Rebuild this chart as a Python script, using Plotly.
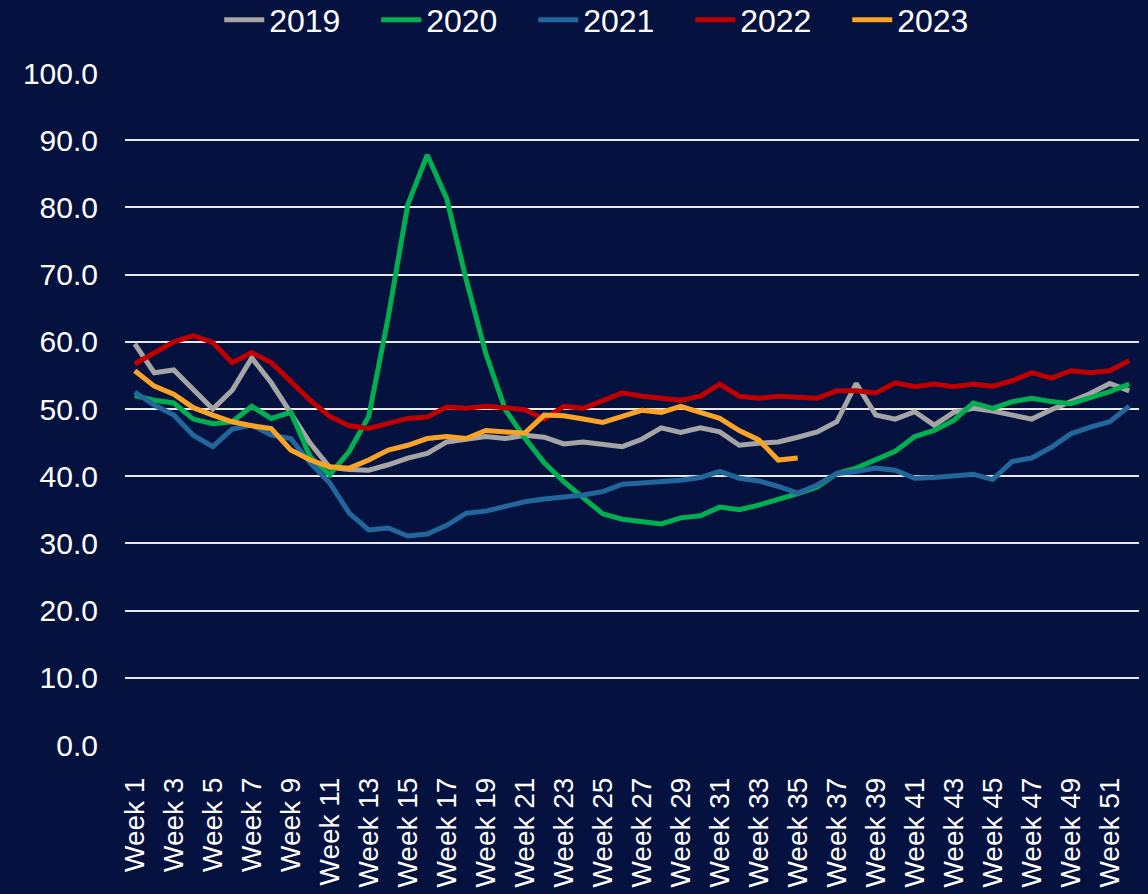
import plotly.graph_objects as go

weeks = [f"Week {i}" for i in range(1, 53)]
tick_weeks = [f"Week {i}" for i in range(1, 53, 2)]

y2019 = [59.7, 55.4, 55.8, 52.9, 50.0, 52.8, 57.6, 53.9, 49.4, 44.9,
         41.3, 41.0, 40.9, 41.7, 42.7, 43.4, 45.1, 45.5, 45.9, 45.6,
         46.1, 45.8, 44.8, 45.1, 44.8, 44.4, 45.5, 47.2, 46.5, 47.2,
         46.6, 44.6, 44.9, 45.1, 45.8, 46.6, 48.1, 53.8, 49.1, 48.5,
         49.6, 47.6, 49.5, 50.1, 49.7, 49.1, 48.5, 49.9, 51.1, 52.3,
         53.8, 52.7]
y2020 = [52.0, 51.3, 50.9, 48.5, 47.8, 48.1, 50.4, 48.6, 49.5, 42.9,
         40.2, 43.7, 48.9, 63.7, 80.4, 87.8, 81.3, 69.2, 58.3, 49.9,
         45.7, 42.0, 39.2, 36.7, 34.4, 33.6, 33.2, 32.9, 33.8, 34.1,
         35.4, 35.0, 35.7, 36.5, 37.4, 38.4, 40.4, 41.2, 42.4, 43.7,
         45.9, 46.8, 48.3, 50.9, 50.1, 51.1, 51.6, 51.1, 50.8, 51.7,
         52.6, 53.7]
y2021 = [52.5, 50.6, 49.1, 46.1, 44.4, 47.0, 47.6, 46.1, 45.6, 42.0,
         39.0, 34.5, 32.0, 32.3, 31.1, 31.4, 32.7, 34.5, 34.8, 35.5,
         36.2, 36.6, 36.9, 37.2, 37.7, 38.8, 39.0, 39.2, 39.4, 39.8,
         40.7, 39.7, 39.3, 38.5, 37.5, 38.7, 40.4, 40.7, 41.2, 40.9,
         39.7, 39.8, 40.0, 40.3, 39.5, 42.2, 42.7, 44.3, 46.3, 47.3,
         48.1, 50.4]
y2022 = [56.7, 58.4, 60.0, 60.9, 59.9, 56.9, 58.4, 56.9, 54.1, 51.3,
         48.9, 47.5, 47.1, 47.8, 48.6, 48.8, 50.3, 50.1, 50.4, 50.2,
         49.9, 48.5, 50.4, 50.1, 51.3, 52.4, 51.9, 51.6, 51.3, 51.9,
         53.7, 51.9, 51.6, 51.9, 51.7, 51.6, 52.7, 52.7, 52.4, 53.9,
         53.3, 53.7, 53.3, 53.7, 53.4, 54.2, 55.4, 54.6, 55.7, 55.4,
         55.7, 57.2]
y2023 = [55.7, 53.4, 52.2, 50.2, 49.1, 48.1, 47.5, 47.1, 43.9, 42.4,
         41.4, 41.2, 42.4, 43.9, 44.6, 45.6, 45.9, 45.6, 46.8, 46.6,
         46.4, 49.1, 49.0, 48.5, 48.0, 48.9, 49.8, 49.5, 50.4, 49.5,
         48.6, 46.8, 45.4, 42.4, 42.7]

series = [
    ("2019", y2019, "#A5A5A5"),
    ("2020", y2020, "#00B050"),
    ("2021", y2021, "#22679C"),
    ("2022", y2022, "#C00000"),
    ("2023", y2023, "#FBA326"),
]

fig = go.Figure()
for name, vals, color in series:
    fig.add_trace(go.Scatter(
        x=weeks[:len(vals)],
        y=vals,
        mode="lines",
        name=name,
        line=dict(color=color, width=5),
    ))

font_family = "Liberation Sans, Arial, sans-serif"

# half a category of padding each side, like an Excel category axis
fig.update_xaxes(
    type="category",
    categoryorder="array",
    categoryarray=weeks,
    range=[-0.5, len(weeks) - 0.5],
    tickmode="array",
    tickvals=tick_weeks,
    ticktext=tick_weeks,
    tickangle=-90,
    tickfont=dict(size=28, color="white", family=font_family),
    showgrid=False,
    zeroline=False,
    showline=False,
    ticks="",
    ticklabelstandoff=26,
)
fig.update_yaxes(
    range=[0, 100],
    dtick=10,
    tickformat=".1f",
    tickfont=dict(size=30, color="white", family=font_family),
    gridcolor="#E8E8E8",
    gridwidth=2,
    zeroline=False,
    showline=False,
    ticks="",
    ticklabelstandoff=26,
)

fig.update_layout(
    width=1148,
    height=894,
    paper_bgcolor="#051240",
    plot_bgcolor="rgba(0,0,0,0)",
    margin=dict(l=125, r=9, t=73, b=149, autoexpand=False),
    font=dict(family=font_family, color="white"),
    showlegend=True,
    legend=dict(
        orientation="h",
        x=0.48,
        xanchor="center",
        y=1.079,
        yanchor="middle",
        font=dict(size=32, color="white", family=font_family),
        bgcolor="rgba(0,0,0,0)",
        itemwidth=40,
        entrywidth=102,
        traceorder="normal",
    ),
)

fig.write_html(
    "out.html",
    config={"displayModeBar": False},
    post_script="document.body.style.margin='0';document.body.style.padding='0';",
)
